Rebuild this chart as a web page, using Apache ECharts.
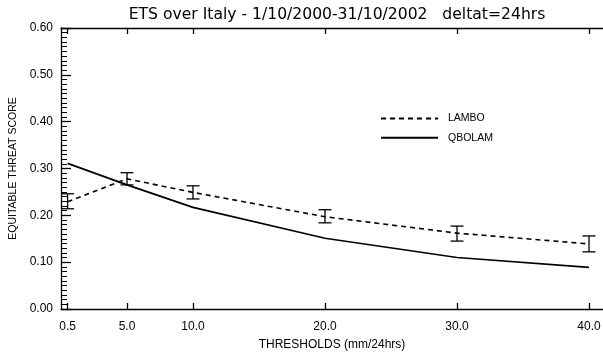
<!DOCTYPE html>
<html>
<head>
<meta charset="utf-8">
<script src="https://cdn.jsdelivr.net/npm/echarts@6/dist/echarts.min.js"></script>
<style>
  html, body { margin: 0; padding: 0; background: #fff; }
  #chart { width: 603px; height: 354px; }
</style>
</head>
<body>
<div id="chart"></div>
<script>
// thresholds (mm/24hrs)
var thresholds = [0.5, 5.0, 10.0, 20.0, 30.0, 40.0];
var xTickLabels = ['0.5', '5.0', '10.0', '20.0', '30.0', '40.0'];
// ETS values
var lambo     = [0.229, 0.278, 0.249, 0.197, 0.162, 0.139];
var lamboLow  = [0.214, 0.265, 0.235, 0.184, 0.145, 0.122];
var lamboHigh = [0.246, 0.291, 0.263, 0.212, 0.177, 0.156];
var qbolam    = [0.311, 0.265, 0.217, 0.151, 0.110, 0.089];

var myChart = echarts.init(document.getElementById('chart'));

var font = 'Liberation Sans, Arial, sans-serif';

function pairs(ys) {
    return thresholds.map(function (x, i) { return [x, ys[i]]; });
}

var option = {
    animation: false,
    backgroundColor: '#fff',
    title: {
        text: 'ETS over Italy - 1/10/2000-31/10/2002   deltat=24hrs',
        left: 337,
        textAlign: 'center',
        top: 7,
        padding: 0,
        textStyle: { fontFamily: 'DejaVu Sans', fontSize: 15.6, fontWeight: 'normal', color: '#000' }
    },
    legend: {
        orient: 'vertical',
        left: 380,
        top: 113,
        padding: 0,
        itemWidth: 57,
        itemHeight: 14,
        itemGap: 8,
        data: ['LAMBO', 'QBOLAM'],
        itemStyle: { color: 'transparent', borderColor: 'transparent', borderWidth: 0 },
        textStyle: { fontFamily: font, fontSize: 10.5, color: '#000', padding: [0, 0, 0, 5] }
    },
    grid: { left: 61, right: 0, top: 28, bottom: 45, outerBoundsMode: 'none' },
    xAxis: [{
        type: 'value',
        min: 0,
        max: 41.06,
        name: 'THRESHOLDS (mm/24hrs)',
        nameLocation: 'middle',
        nameGap: 30,
        nameTextStyle: { fontFamily: font, fontSize: 12, color: '#000' },
        axisLine: { lineStyle: { color: '#000', width: 1.3 } },
        axisTick: { inside: true, length: 6, customValues: thresholds, lineStyle: { color: '#000', width: 1.3 } },
        axisLabel: {
            customValues: thresholds,
            margin: 12,
            fontFamily: font, fontSize: 12, color: '#000',
            formatter: function (v) { return xTickLabels[thresholds.indexOf(v)]; }
        },
        splitLine: { show: false }
    }, {
        type: 'value',
        position: 'top',
        min: 0,
        max: 41.06,
        axisLine: { lineStyle: { color: '#000', width: 1.3 } },
        axisTick: { inside: true, length: 6, customValues: thresholds, lineStyle: { color: '#000', width: 1.3 } },
        axisLabel: { show: false },
        splitLine: { show: false }
    }],
    yAxis: {
        type: 'value',
        min: 0,
        max: 0.6,
        interval: 0.1,
        name: 'EQUITABLE THREAT SCORE',
        nameLocation: 'middle',
        nameGap: 36,
        nameTextStyle: { fontFamily: font, fontSize: 10.5, color: '#000' },
        axisLine: { show: true, lineStyle: { color: '#000', width: 1.3 } },
        axisTick: { show: true, inside: true, length: 10, lineStyle: { color: '#000', width: 1.3 } },
        minorTick: { show: true, splitNumber: 10, length: 6, lineStyle: { color: '#000', width: 1 } },
        axisLabel: {
            margin: 8,
            fontFamily: font, fontSize: 12, color: '#000',
            formatter: function (v) { return v.toFixed(2); }
        },
        splitLine: { show: false }
    },
    series: [{
        name: 'LAMBO',
        type: 'line',
        data: pairs(lambo),
        symbol: 'none',
        lineStyle: { color: '#000', width: 1.6, type: [5, 4] },
        itemStyle: { color: '#000' }
    }, {
        name: 'QBOLAM',
        type: 'line',
        data: pairs(qbolam),
        symbol: 'none',
        lineStyle: { color: '#000', width: 1.7 },
        itemStyle: { color: '#000' }
    }, {
        name: 'LAMBO range',
        type: 'custom',
        data: thresholds.map(function (x, i) { return [x, lamboLow[i], lamboHigh[i]]; }),
        renderItem: function (params, api) {
            var lo = api.coord([api.value(0), api.value(1)]);
            var hi = api.coord([api.value(0), api.value(2)]);
            var w = 6.5;
            var st = { stroke: '#000', lineWidth: 1.3 };
            return {
                type: 'group',
                children: [
                    { type: 'line', shape: { x1: lo[0], y1: lo[1], x2: hi[0], y2: hi[1] }, style: st },
                    { type: 'line', shape: { x1: lo[0] - w, y1: lo[1], x2: lo[0] + w, y2: lo[1] }, style: st },
                    { type: 'line', shape: { x1: hi[0] - w, y1: hi[1], x2: hi[0] + w, y2: hi[1] }, style: st }
                ]
            };
        }
    }]
};

myChart.setOption(option);
</script>
</body>
</html>
